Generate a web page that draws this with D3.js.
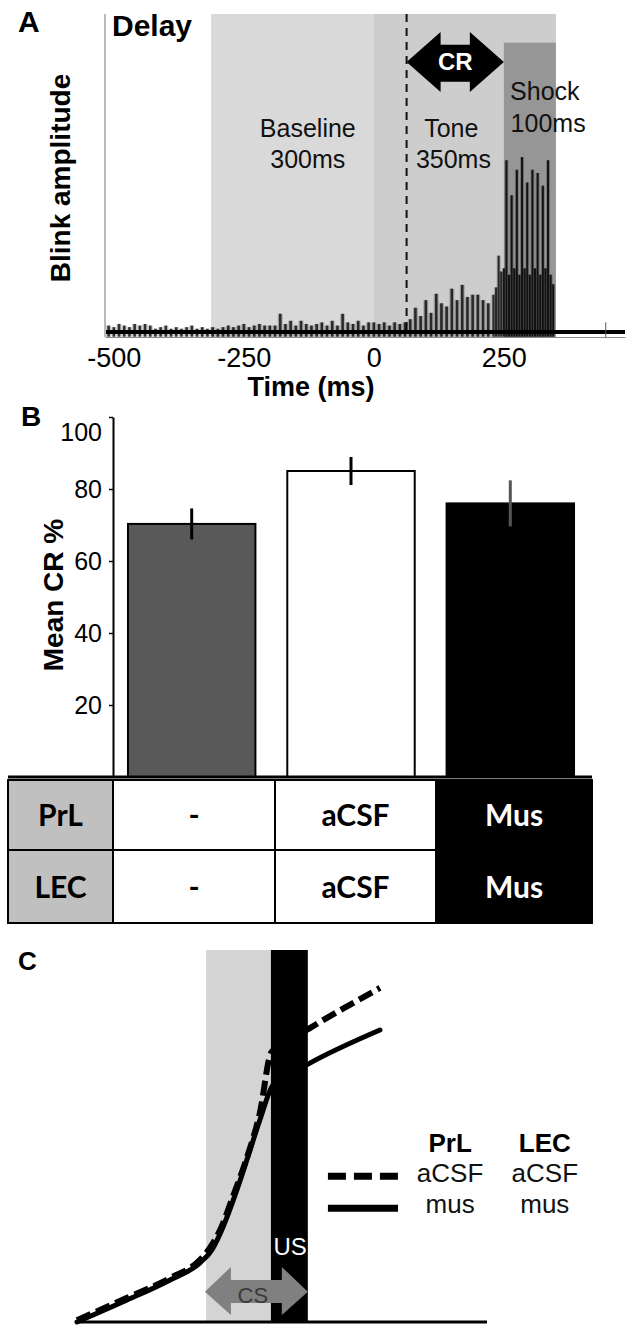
<!DOCTYPE html>
<html>
<head>
<meta charset="utf-8">
<script src="https://cdn.jsdelivr.net/npm/d3@7"></script>
<style>
  html, body { margin: 0; padding: 0; background: #fff; }
  svg { display: block; font-family: "Liberation Sans", Arial, sans-serif; }
</style>
</head>
<body>
<svg id="chart" width="634" height="1332"></svg>
<script>
// ---------------- DATA ----------------
// Panel A: averaged blink trace (time in ms, amplitude in arbitrary units)
const traceTime = [-510,-500,-490,-480,-470,-460,-450,-440,-430,-420,-410,-400,-390,-380,-370,-360,-350,-340,-330,-320,
  -310,-300,-290,-280,-270,-260,-250,-240,-230,-220,-210,-200,-190,-180,-170,-160,-150,-140,-130,-120,-110,-100,-90,-80,-70,-60,-50,-40,-30,-20,-10,
  0,10,20,30,40,50,60,70,80,90,100,110,120,130,140,150,160,170,180,190,200,210,220,
  230,235,240,245,250,255,260,265,270,275,280,285,290,295,300,305,310,315,320,325,330,335,340,345];
const traceAmp = [2,1.5,2.5,2,1.5,2.5,2,2.5,2,1,1.5,2,1,1.5,1,1.5,2,1,1.5,1,
  1.5,1,1.5,2,1.5,2,2.5,1.5,2,2.5,2,2,2,5.7,2.5,3.5,2,3.5,2.5,2,2.5,3,2,3.5,2,5.7,3,2.5,3.5,2,3,
  3,2.5,3,2,3,2.5,3,4,7.6,5,10,6,12,9,8,13.6,10,14.8,11,11.7,11.7,10,9,
  11.7,14,24,19,20,54,18,43,20,51,18,55,20,47,18,51,20,50,18,46,20,54,18,15];
const xTicksA = [-500, -250, 0, 250];
const epochNames = ["Baseline", "Tone", "Shock"];
const epochStart = [-313, 0, 250];
const epochEnd = [350, 350, 350];
const epochTop = [100, 100, 91];
const crOnset = 63;
const traceEnd = 483;

// Panel B: mean CR %
const groups = ["none", "aCSF", "Mus"];
const meanCR = [70.3, 85, 76];
const errCR = [4.3, 3.9, 6.4];
const yTicksB = [20, 40, 60, 80, 100];
const tableRows = ["PrL", "LEC"];
const tableCells = ["-", "aCSF", "Mus"];

// Panel C: schematic eyelid curves
const solidX = [0, 12.2, 22.7, 30, 32.9, 35.6, 39, 42.2, 44.6, 47.8, 56.8, 73.9];
const solidY = [0, 5.9, 11.3, 15.9, 19.4, 25.5, 35.5, 46.2, 54.3, 63.7, 69.6, 78.5];
const dashX = [0, 12.2, 22.7, 30, 32.4, 34.9, 38, 41.5, 44.6, 47.4, 56.8, 73.9];
const dashY = [0.5, 6.5, 11.8, 16.7, 19.9, 24.7, 33.6, 44.4, 56.2, 72.5, 79.0, 89.8];
const csStart = 31.5, usStart = 47.3, usEnd = 56.3;
const legendCols = ["PrL", "LEC"];
const legendItems = ["aCSF", "mus"];

// ---------------- DRAW ----------------
const svg = d3.select("#chart");
svg.append("rect").attr("width", 634).attr("height", 1332).attr("fill", "#fff");

// ===== Panel A =====
const xA = d3.scaleLinear().domain([-517, 483]).range([105, 625]);
const yA = d3.scaleLinear().domain([-1.6, 100]).range([337, 14]);
const gA = svg.append("g");
const epochFill = ["#d9d9d9", "#cdcdcd", "#969696"];
epochNames.forEach((n, i) => {
  gA.append("rect")
    .attr("x", xA(epochStart[i])).attr("y", yA(epochTop[i]))
    .attr("width", xA(epochEnd[i]) - xA(epochStart[i]))
    .attr("height", yA(-1.6) - yA(epochTop[i]))
    .attr("fill", epochFill[i]);
});
// CR onset dashed line
gA.append("line")
  .attr("x1", xA(crOnset)).attr("x2", xA(crOnset))
  .attr("y1", yA(100)).attr("y2", yA(0))
  .attr("stroke", "#111").attr("stroke-width", 2).attr("stroke-dasharray", "8,6");
// Labels
const labFs = 25;
gA.append("text").attr("x", xA(-127)).attr("y", yA(61.3)).attr("text-anchor", "middle")
  .attr("font-size", labFs).attr("fill", "#111").text("Baseline");
gA.append("text").attr("x", xA(-127)).attr("y", yA(51.6)).attr("text-anchor", "middle")
  .attr("font-size", labFs).attr("fill", "#111").text("300ms");
gA.append("text").attr("x", xA(149)).attr("y", yA(61.3)).attr("text-anchor", "middle")
  .attr("font-size", labFs).attr("fill", "#111").text("Tone");
gA.append("text").attr("x", xA(153)).attr("y", yA(51.6)).attr("text-anchor", "middle")
  .attr("font-size", labFs).attr("fill", "#111").text("350ms");
gA.append("text").attr("x", xA(262)).attr("y", yA(73)).attr("text-anchor", "start")
  .attr("font-size", labFs).attr("fill", "#111").text("Shock");
gA.append("text").attr("x", xA(263)).attr("y", yA(62.9)).attr("text-anchor", "start")
  .attr("font-size", labFs).attr("fill", "#111").text("100ms");

// CR double arrow
{
  const x0 = xA(crOnset), x1 = xA(250);
  const head = 34;
  const yc = yA(84.9), hT = yA(94.3), hB = yA(75.5), sT = yA(90.3), sB = yA(78.7);
  const pts = [[x0, yc], [x0 + head, hT], [x0 + head, sT], [x1 - head, sT], [x1 - head, hT], [x1, yc],
               [x1 - head, hB], [x1 - head, sB], [x0 + head, sB], [x0 + head, hB]];
  gA.append("path").attr("d", d3.line()(pts) + "Z").attr("fill", "#000");
  gA.append("text").attr("x", (x0 + x1) / 2).attr("y", yc + 8).attr("text-anchor", "middle")
    .attr("font-size", 24).attr("font-weight", "bold").attr("fill", "#fff").text("CR");
}

// Trace
const traceG = gA.append("g");
// variance halo
traceTime.forEach((t, i) => {
  traceG.append("line")
    .attr("x1", xA(t)).attr("x2", xA(t))
    .attr("y1", yA(-1.5)).attr("y2", yA(traceAmp[i]))
    .attr("stroke", "#000").attr("stroke-opacity", 0.22)
    .attr("stroke-width", t >= 230 ? 4 : 5);
});
traceG.append("line")
  .attr("x1", xA(-515)).attr("x2", xA(traceEnd))
  .attr("y1", yA(0)).attr("y2", yA(0))
  .attr("stroke", "#000").attr("stroke-width", 4);
traceTime.forEach((t, i) => {
  traceG.append("line")
    .attr("x1", xA(t)).attr("x2", xA(t))
    .attr("y1", yA(-1.5)).attr("y2", yA(traceAmp[i]))
    .attr("stroke", "#000")
    .attr("stroke-opacity", t >= 250 ? 0.85 : 0.75)
    .attr("stroke-width", t >= 230 ? 2 : 2.6);
});
traceG.append("line")
  .attr("x1", xA(446)).attr("x2", xA(446))
  .attr("y1", yA(-2)).attr("y2", yA(3))
  .attr("stroke", "#555").attr("stroke-width", 1);

// Axes A
const axA = gA.append("g").attr("transform", `translate(0,${yA(-1.6)})`)
  .call(d3.axisBottom(xA).tickValues(xTicksA).tickFormat(d => String(d)).tickSize(0).tickPadding(11));
axA.select(".domain").attr("stroke", "#888").attr("stroke-width", 1);
axA.selectAll("text").attr("font-size", 27).attr("fill", "#000")
  .attr("font-family", "'Liberation Sans', Arial, sans-serif");
gA.append("line").attr("x1", xA(-517)).attr("x2", xA(-517))
  .attr("y1", yA(100)).attr("y2", yA(-1.6)).attr("stroke", "#777").attr("stroke-width", 1);

gA.append("text").attr("x", 311).attr("y", 396).attr("text-anchor", "middle")
  .attr("font-size", 27).attr("font-weight", "bold").text("Time (ms)");
gA.append("text").attr("transform", "translate(70,178) rotate(-90)").attr("text-anchor", "middle")
  .attr("font-size", 28).attr("font-weight", "bold").text("Blink amplitude");
gA.append("text").attr("x", 112).attr("y", 36).attr("font-size", 30).attr("font-weight", "bold").text("Delay");
svg.append("text").attr("x", 18).attr("y", 32).attr("font-size", 30).attr("font-weight", "bold").text("A");

// ===== Panel B =====
const xB = d3.scaleBand().domain(groups).range([113, 589]).paddingInner(0.2).paddingOuter(0.094);
const yB = d3.scaleLinear().domain([0, 100]).range([777, 417]);
const gB = svg.append("g");
const barFill = ["#595959", "#ffffff", "#000000"];
const errColor = ["#000", "#000", "#555"];
groups.forEach((g, i) => {
  gB.append("rect")
    .attr("x", xB(g)).attr("y", yB(meanCR[i]))
    .attr("width", xB.bandwidth()).attr("height", yB(0) - yB(meanCR[i]))
    .attr("fill", barFill[i]).attr("stroke", "#000").attr("stroke-width", 2);
  const cx = xB(g) + xB.bandwidth() / 2;
  gB.append("line").attr("x1", cx).attr("x2", cx)
    .attr("y1", yB(meanCR[i] + errCR[i])).attr("y2", yB(meanCR[i] - errCR[i]))
    .attr("stroke", errColor[i]).attr("stroke-width", 3);
});
const axB = gB.append("g").attr("transform", `translate(113,0)`)
  .call(d3.axisLeft(yB).tickValues(yTicksB).tickSize(4).tickSizeOuter(0).tickPadding(7));
axB.select(".domain").attr("stroke", "#000").attr("stroke-width", 2);
axB.selectAll(".tick line").attr("stroke", "#000").attr("stroke-width", 1.5);
axB.selectAll("text").attr("font-size", 25).attr("fill", "#000")
  .attr("font-family", "'Liberation Sans', Arial, sans-serif");
axB.selectAll(".tick").filter(d => d === 100).select("text").attr("dy", "0.95em");
gB.append("line").attr("x1", 8).attr("x2", 592).attr("y1", yB(0)).attr("y2", yB(0))
  .attr("stroke", "#000").attr("stroke-width", 3);
gB.append("text").attr("transform", "translate(63,595) rotate(-90)").attr("text-anchor", "middle")
  .attr("font-size", 28).attr("font-weight", "bold").text("Mean CR %");
svg.append("text").attr("x", 21).attr("y", 426).attr("font-size", 28).attr("font-weight", "bold").text("B");

// Table
const colX = [8, 113, 275, 436, 592];
const rowY = [780, 850, 923];
const colFill = ["#c0c0c0", "#ffffff", "#ffffff", "#000000"];
const colText = ["#000", "#000", "#000", "#fff"];
tableRows.forEach((r, ri) => {
  const cells = [r].concat(tableCells);
  cells.forEach((c, ci) => {
    gB.append("rect").attr("x", colX[ci]).attr("y", rowY[ri])
      .attr("width", colX[ci + 1] - colX[ci]).attr("height", rowY[ri + 1] - rowY[ri])
      .attr("fill", colFill[ci]).attr("stroke", "#000").attr("stroke-width", 2);
  });
  cells.forEach((c, ci) => {
    gB.append("text").attr("x", (colX[ci] + colX[ci + 1]) / 2)
      .attr("y", (rowY[ri] + rowY[ri + 1]) / 2 + 11)
      .attr("text-anchor", "middle").attr("font-family", "Lato, 'Open Sans', sans-serif")
      .attr("font-weight", "bold").attr("font-size", 30).attr("fill", colText[ci]).text(c);
  });
});

// ===== Panel C =====
const xC = d3.scaleLinear().domain([0, 100]).range([77, 487]);
const yC = d3.scaleLinear().domain([0, 100]).range([1322, 950]);
const gC = svg.append("g");
gC.append("rect").attr("x", xC(csStart)).attr("y", yC(100))
  .attr("width", xC(usStart) - xC(csStart)).attr("height", yC(0) - yC(100)).attr("fill", "#d4d4d4");
const lineC = d3.line().x(d => xC(d[0])).y(d => yC(d[1])).curve(d3.curveMonotoneX);
gC.append("path").attr("d", lineC(solidX.map((x, i) => [x, solidY[i]])))
  .attr("fill", "none").attr("stroke", "#000").attr("stroke-width", 5).attr("stroke-linecap", "round");
gC.append("path").attr("d", lineC(dashX.map((x, i) => [x, dashY[i]])))
  .attr("fill", "none").attr("stroke", "#000").attr("stroke-width", 6).attr("stroke-dasharray", "15,6");
gC.append("rect").attr("x", xC(usStart)).attr("y", yC(100))
  .attr("width", xC(usEnd) - xC(usStart)).attr("height", yC(0) - yC(100)).attr("fill", "#000");
gC.append("line").attr("x1", xC(0)).attr("x2", xC(100)).attr("y1", yC(0)).attr("y2", yC(0))
  .attr("stroke", "#000").attr("stroke-width", 3);
gC.append("text").attr("x", xC(52)).attr("y", yC(18)).attr("text-anchor", "middle")
  .attr("font-size", 24).attr("fill", "#fff").text("US");
{
  const x0 = xC(31.2), x1 = xC(56.3), head = 26;
  const yc = yC(8.1), hT = yC(14.8), hB = yC(1.9), sT = yC(11.3), sB = yC(5.1);
  const pts = [[x0, yc], [x0 + head, hT], [x0 + head, sT], [x1 - head, sT], [x1 - head, hT], [x1, yc],
               [x1 - head, hB], [x1 - head, sB], [x0 + head, sB], [x0 + head, hB]];
  gC.append("path").attr("d", d3.line()(pts) + "Z").attr("fill", "#808080");
  gC.append("text").attr("x", xC(42.9)).attr("y", yC(5.1)).attr("text-anchor", "middle")
    .attr("font-size", 22).attr("fill", "#3a3a3a").text("CS");
}
// Legend
gC.append("line").attr("x1", xC(61.2)).attr("x2", xC(78.3)).attr("y1", yC(39.2)).attr("y2", yC(39.2))
  .attr("stroke", "#000").attr("stroke-width", 7).attr("stroke-dasharray", "18,8");
gC.append("line").attr("x1", xC(61.2)).attr("x2", xC(78.3)).attr("y1", yC(30.6)).attr("y2", yC(30.6))
  .attr("stroke", "#000").attr("stroke-width", 7);
const legColX = [91, 114.1];
legendCols.forEach((c, i) => {
  gC.append("text").attr("x", xC(legColX[i])).attr("y", yC(45.7)).attr("text-anchor", "middle")
    .attr("font-size", 26).attr("font-weight", "bold").text(c);
  legendItems.forEach((it, j) => {
    gC.append("text").attr("x", xC(legColX[i])).attr("y", yC(j === 0 ? 37.6 : 29.3)).attr("text-anchor", "middle")
      .attr("font-size", 26).attr("fill", "#111").text(it);
  });
});
svg.append("text").attr("x", 18).attr("y", 970).attr("font-size", 26).attr("font-weight", "bold").text("C");
</script>
</body>
</html>
